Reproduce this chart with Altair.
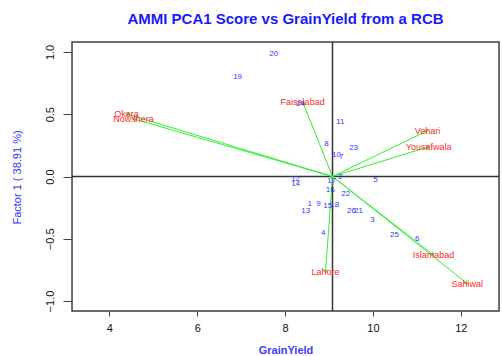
import altair as alt
import pandas as pd
import math

# Genotype scores (GrainYield, PCA1)
gen_labels = [str(i) for i in range(1, 27)]
gen_x = [8.56, 9.26, 9.99, 8.87, 10.06, 11.01, 9.28, 8.94, 8.76, 9.17, 9.26, 8.24, 8.47,
         8.24, 8.97, 9.03, 9.06, 9.13, 6.92, 7.74, 9.67, 9.38, 9.56, 8.35, 10.49, 9.51]
gen_y = [-0.22, 0.00, -0.35, -0.45, -0.03, -0.50, 0.16, 0.26, -0.22, 0.17, 0.44, -0.02, -0.28,
         -0.06, -0.24, -0.11, -0.04, -0.23, 0.80, 0.985, -0.28, -0.14, 0.23, 0.58, -0.47, -0.28]

# Environment scores
env_labels = ["Faisalabad", "Okara", "Nowshera", "Vehari", "Yousafwala", "Islamabad", "Sahiwal", "Lahore"]
env_x = [8.40, 4.39, 4.55, 11.24, 11.27, 11.38, 12.15, 8.92]
env_y = [0.60, 0.503, 0.463, 0.367, 0.239, -0.63, -0.86, -0.77]

origin_x = 9.08
origin_y = 0.0

x_dom = [3.15, 12.87]
y_dom = [-1.08, 1.08]
W, H = 427, 269
px_x = W / (x_dom[1] - x_dom[0])
px_y = H / (y_dom[1] - y_dom[0])

gen = pd.DataFrame({"label": gen_labels, "x": gen_x, "y": gen_y})
angles = []
for ex, ey in zip(env_x, env_y):
    dx = (ex - origin_x) * px_x
    dyu = (ey - origin_y) * px_y
    angles.append(math.degrees(math.atan2(dx, dyu)) % 360)
env = pd.DataFrame({"label": env_labels, "x": env_x, "y": env_y,
                    "x0": [origin_x] * len(env_x), "y0": [origin_y] * len(env_x),
                    "ang": angles})

xs = alt.Scale(domain=x_dom, nice=False, zero=False)
ys = alt.Scale(domain=y_dom, nice=False, zero=False)

font = "Liberation Sans"

xaxis = alt.Axis(values=[4, 6, 8, 10, 12], grid=False, domain=False, tickSize=5, tickColor="#444",
                 labelFontSize=11, labelFont=font, labelColor="#111", labelPadding=6,
                 title="GrainYield", titleFont=font, titleFontSize=11, titleFontWeight="bold",
                 titleColor="#3a3aff", titleBaseline="middle", titleY=39)
yaxis = alt.Axis(values=[-1, -0.5, 0, 0.5, 1], format=".1f", grid=False, domain=False, tickSize=9,
                 tickColor="#444", labelAngle=270, labelAlign="center", labelBaseline="bottom",
                 labelFontSize=11, labelFont=font, labelColor="#111", labelPadding=8,
                 title="Factor 1 ( 38.91 %)", titleFont=font, titleFontSize=11, titleFontWeight="normal",
                 titleColor="#3333ff", titleAngle=270, titleBaseline="middle", titleX=-55, titleY=135)

base_x = alt.X("x:Q", scale=xs, axis=xaxis)
base_y = alt.Y("y:Q", scale=ys, axis=yaxis)

frame = alt.Chart(pd.DataFrame({"k": [0]})).mark_rect(filled=False, stroke="#444", strokeWidth=1.5).encode(
    x=alt.value(0), x2=alt.value(W), y=alt.value(0), y2=alt.value(H))

vline = alt.Chart(pd.DataFrame({"x": [origin_x]})).mark_rule(color="#333", strokeWidth=1.5).encode(
    x=alt.X("x:Q", scale=xs, axis=xaxis))
hline = alt.Chart(pd.DataFrame({"y": [origin_y]})).mark_rule(color="#333", strokeWidth=1.5).encode(
    y=alt.Y("y:Q", scale=ys, axis=yaxis))

arrows = alt.Chart(env).mark_rule(color="#33ee33", strokeWidth=1).encode(
    x=alt.X("x0:Q", scale=xs, axis=xaxis), y=alt.Y("y0:Q", scale=ys, axis=yaxis),
    x2="x:Q", y2="y:Q")

heads = alt.Chart(env).mark_point(shape="M-0.6,0.9L0,0L0.6,0.9", filled=False, color="#22cc22",
                                  strokeWidth=1.2, size=40).encode(
    x=base_x, y=base_y, angle=alt.Angle("ang:Q", scale=None))

env_text = alt.Chart(env).mark_text(color="#ff2a2a", font=font, fontSize=9).encode(
    x=base_x, y=base_y, text="label:N")

gen_text = alt.Chart(gen).mark_text(color="#3535ff", font=font, fontSize=8).encode(
    x=base_x, y=base_y, text="label:N")

chart = alt.layer(frame, vline, hline, arrows, heads, env_text, gen_text).properties(
    width=W, height=H,
    title=alt.TitleParams("AMMI PCA1 Score vs GrainYield from a RCB", font=font, fontSize=15,
                          fontWeight="bold", color="#1a1aff", anchor="middle", offset=14),
    autosize=alt.AutoSizeParams(type="none"),
    padding={"left": 72, "top": 42, "right": 3, "bottom": 45},
).configure_view(stroke=None).configure(background="white")

chart.save("out.html", embed_options={"renderer": "svg", "actions": False})
